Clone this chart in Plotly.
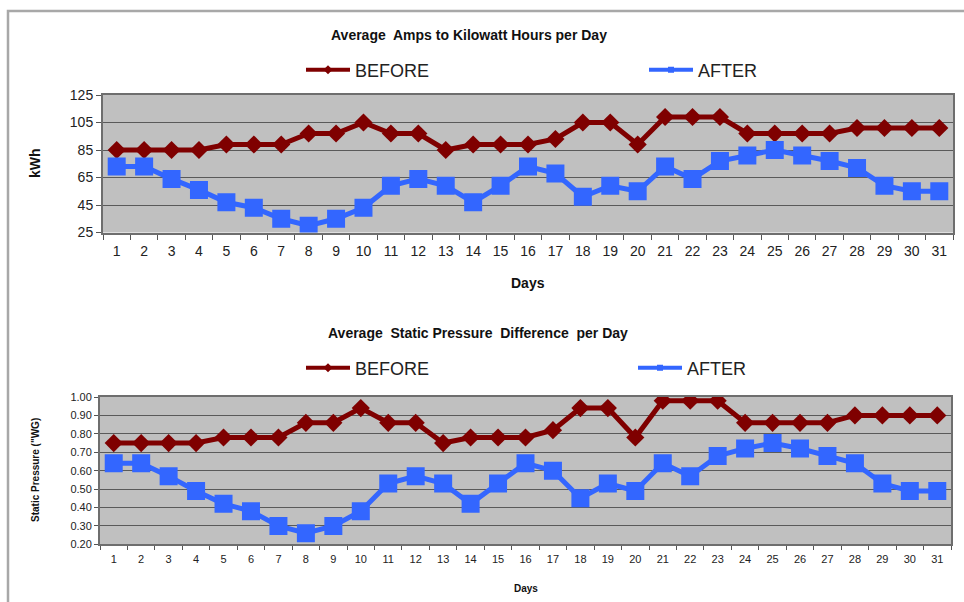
import plotly.graph_objects as go

days = list(range(1, 32))
kwh_before = [85, 85, 85, 85, 89, 89, 89, 97, 97, 105, 97, 97, 85, 89, 89, 89, 93, 105, 105, 89,
              109, 109, 109, 97, 97, 97, 97, 101, 101, 101, 101]
kwh_after = [73, 73, 64, 56, 47, 43, 35, 30, 35, 43, 59, 64, 59, 47, 59, 73, 68, 51, 59, 55,
             73, 64, 77, 81, 85, 81, 77, 72, 59, 55, 55]
sp_before = [0.75, 0.75, 0.75, 0.75, 0.78, 0.78, 0.78, 0.86, 0.86, 0.94, 0.86, 0.86, 0.75, 0.78, 0.78, 0.78,
             0.82, 0.94, 0.94, 0.78, 0.98, 0.98, 0.98, 0.86, 0.86, 0.86, 0.86, 0.90, 0.90, 0.90, 0.90]
sp_after = [0.64, 0.64, 0.57, 0.49, 0.42, 0.38, 0.30, 0.26, 0.30, 0.38, 0.53, 0.57, 0.53, 0.42, 0.53, 0.64,
            0.60, 0.45, 0.53, 0.49, 0.64, 0.57, 0.68, 0.72, 0.75, 0.72, 0.68, 0.64, 0.53, 0.49, 0.49]

RED = "#7f0000"
BLUE = "#3366ff"
FONT = "Liberation Sans, Arial, sans-serif"
W, H = 964, 602

def px(x):
    return x / W

def py(y):
    return 1 - y / H

fig = go.Figure()

# top chart
fig.add_trace(go.Scatter(x=days, y=kwh_before, mode="lines+markers", name="BEFORE",
                         line=dict(color=RED, width=5), marker=dict(symbol="diamond", size=14, color=RED),
                         xaxis="x", yaxis="y", showlegend=False))
fig.add_trace(go.Scatter(x=days, y=kwh_after, mode="lines+markers", name="AFTER",
                         line=dict(color=BLUE, width=5), marker=dict(symbol="square", size=18, color=BLUE),
                         xaxis="x", yaxis="y", showlegend=False))
# bottom chart
fig.add_trace(go.Scatter(x=days, y=sp_before, mode="lines+markers", name="BEFORE",
                         line=dict(color=RED, width=5), marker=dict(symbol="diamond", size=14, color=RED),
                         xaxis="x2", yaxis="y2", showlegend=False))
fig.add_trace(go.Scatter(x=days, y=sp_after, mode="lines+markers", name="AFTER",
                         line=dict(color=BLUE, width=5), marker=dict(symbol="square", size=18, color=BLUE),
                         xaxis="x2", yaxis="y2", showlegend=False))

# legend entries, one legend per entry so they can sit far apart
legend_items = [
    ("legend", "BEFORE", RED, "diamond", 7, "x", "y", 301, 70),
    ("legend2", "AFTER", BLUE, "square", 6, "x", "y", 644, 70),
    ("legend3", "BEFORE", RED, "diamond", 7, "x2", "y2", 301, 368),
    ("legend4", "AFTER", BLUE, "square", 6, "x2", "y2", 633, 368),
]
legend_layouts = {}
for lg, name, col, sym, ms, xa, ya, lx, ly in legend_items:
    fig.add_trace(go.Scatter(x=[None], y=[None], mode="lines+markers", name=name,
                             line=dict(color=col, width=4), marker=dict(symbol=sym, size=ms, color=col),
                             xaxis=xa, yaxis=ya, legend=lg))
    legend_layouts[lg] = dict(orientation="h", x=px(lx), y=py(ly), xanchor="left", yanchor="middle",
                              itemwidth=44, font=dict(size=18, color="#222222"),
                              bgcolor="rgba(0,0,0,0)", itemclick=False, itemdoubleclick=False)

axis_common = dict(showline=True, linecolor="#6e6e6e", linewidth=2, mirror=True, zeroline=False)

fig.update_layout(
    width=W, height=H,
    margin=dict(l=0, r=0, t=0, b=0, autoexpand=False),
    paper_bgcolor="white", plot_bgcolor="#c0c0c0",
    font=dict(family=FONT, color="#222222"),
    xaxis=dict(domain=[px(103), px(953)], anchor="y", range=[0.5, 31.5],
               tickmode="array", tickvals=days, ticks="", showgrid=False,
               tickfont=dict(size=14), ticklabelstandoff=5,
               minor=dict(tickmode="linear", tick0=0.5, dtick=1, ticks="outside", ticklen=5,
                          tickcolor="#555555", showgrid=False),
               **axis_common),
    yaxis=dict(domain=[py(232.5), py(95)], anchor="x", range=[25, 125], dtick=20, tick0=25,
               ticks="outside", ticklen=5, tickcolor="#555555",
               showgrid=True, gridcolor="#5a5a5a", gridwidth=1,
               tickfont=dict(size=14), **axis_common),
    xaxis2=dict(domain=[px(100), px(951)], anchor="y2", range=[0.5, 31.5],
                tickmode="array", tickvals=days, ticks="", showgrid=False,
                tickfont=dict(size=11), ticklabelstandoff=3,
                minor=dict(tickmode="linear", tick0=0.5, dtick=1, ticks="outside", ticklen=4,
                           tickcolor="#555555", showgrid=False),
                **axis_common),
    yaxis2=dict(domain=[py(544.3), py(397)], anchor="x2", range=[0.2, 1.0], dtick=0.1, tick0=0.2,
                tickformat=".2f", ticks="outside", ticklen=4, tickcolor="#555555",
                showgrid=True, gridcolor="#5a5a5a", gridwidth=1,
                tickfont=dict(size=11), **axis_common),
    showlegend=True,
    **legend_layouts,
)

annotations = [
    dict(text="<b>Average  Amps to Kilowatt Hours per Day</b>", x=px(469), y=py(35), size=14),
    dict(text="<b>Average  Static Pressure  Difference  per Day</b>", x=px(478), y=py(333), size=14),
    dict(text="<b>Days</b>", x=px(528), y=py(283), size=14),
    dict(text="<b>Days</b>", x=px(526), y=py(588), size=10),
]
for a in annotations:
    fig.add_annotation(text=a["text"], x=a["x"], y=a["y"], xref="paper", yref="paper",
                       showarrow=False, xanchor="center", yanchor="middle",
                       font=dict(size=a["size"], color="#111111", family=FONT))

fig.add_annotation(text="<b>kWh</b>", x=px(35), y=py(163), xref="paper", yref="paper", showarrow=False,
                   textangle=-90, xanchor="center", yanchor="middle", font=dict(size=14, color="#111111"))
fig.add_annotation(text="<b>Static Pressure (\"WG)</b>", x=px(35), y=py(470), xref="paper", yref="paper",
                   showarrow=False, textangle=-90, xanchor="center", yanchor="middle",
                   font=dict(size=10, color="#111111"))

# frame
fig.add_shape(type="path", xref="paper", yref="paper",
              path=f"M {px(8)},0 L {px(8)},{py(11)} L 1,{py(11)}",
              line=dict(color="#a8a8a8", width=2.5), layer="below")

fig.write_html("out.html")
